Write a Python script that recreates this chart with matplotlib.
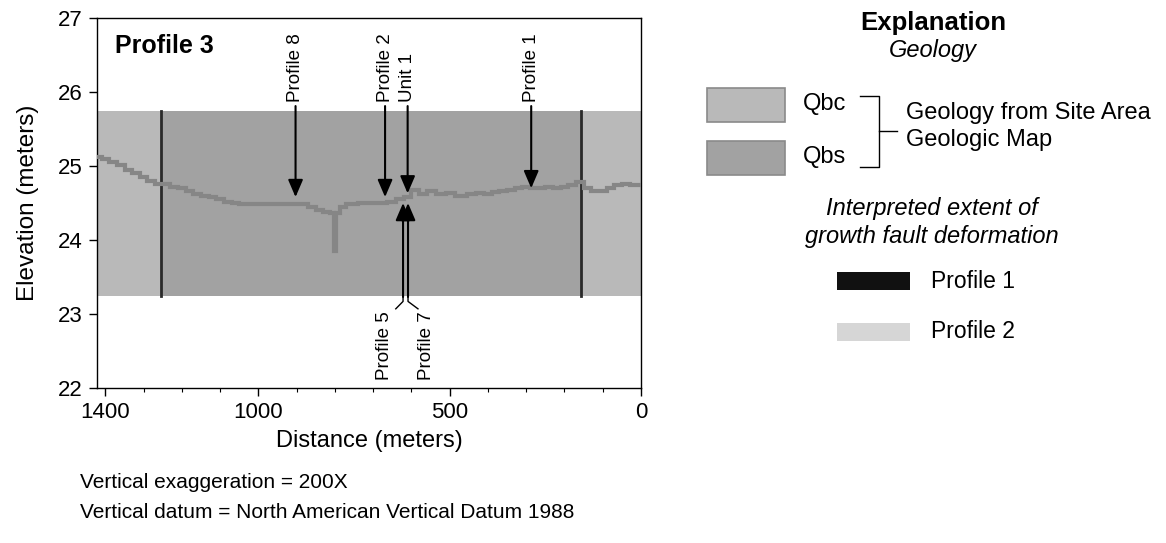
import matplotlib

matplotlib.use("Agg")

import matplotlib.pyplot as plt
from matplotlib.lines import Line2D
from matplotlib.patches import Rectangle

plt.rcParams["font.family"] = ["Liberation Sans", "DejaVu Sans"]
plt.rcParams["font.size"] = 15

# ground profile (distance in m, elevation in m)
distance = [1420, 1400, 1380, 1360, 1340, 1320, 1300, 1280, 1260, 1240, 1220,
            1200, 1180, 1160, 1140, 1120, 1100, 1080, 1060, 1040, 1000, 960,
            920, 880, 860, 840, 820, 805, 800, 795, 780, 760, 720, 680, 650,
            630, 610, 590, 570, 550, 520, 500, 470, 440, 420, 400, 380, 360,
            340, 320, 300, 280, 260, 240, 220, 200, 180, 160, 140, 120, 100,
            80, 60, 40, 20, 0]
elevation = [25.12, 25.10, 25.05, 25.02, 24.95, 24.90, 24.85, 24.80, 24.76,
             24.76, 24.72, 24.70, 24.66, 24.62, 24.60, 24.58, 24.55, 24.52,
             24.50, 24.49, 24.49, 24.48, 24.49, 24.48, 24.44, 24.40, 24.38,
             24.36, 23.85, 24.36, 24.45, 24.48, 24.50, 24.50, 24.52, 24.55,
             24.58, 24.68, 24.62, 24.66, 24.62, 24.64, 24.60, 24.62, 24.64,
             24.62, 24.65, 24.66, 24.68, 24.70, 24.72, 24.70, 24.70, 24.72,
             24.70, 24.72, 24.74, 24.78, 24.70, 24.66, 24.66, 24.70, 24.75,
             24.76, 24.74, 24.75]

# geologic units along the profile
unit_names = ["Qbc", "Qbs", "Qbc"]
unit_start = [1422, 1254, 158]
unit_end = [1254, 158, 0]
unit_top = 25.75
unit_bottom = 23.25
unit_colors = {"Qbc": "#b9b9b9", "Qbs": "#a2a2a2"}
contacts = [1254, 158]

# crossing profiles marked from above
down_labels = ["Profile 8", "Profile 2", "Unit 1", "Profile 1"]
down_x = [903, 669, 610, 287]
down_tip = [24.58, 24.58, 24.63, 24.70]

# crossing profiles marked from below
up_labels = ["Profile 5", "Profile 7"]
up_x = [622, 609]
up_tip = [24.50, 24.50]
up_label_shift = [49, -47]
up_leader_shift = [19, -26]

W, H = 1166, 543
fig = plt.figure(figsize=(W / 100, H / 100), dpi=100)
ax = fig.add_axes([97 / W, 1 - 388 / H, 544 / W, 370 / H])


def fx(x):
    return x / W


def fy(y):
    return 1 - y / H


for name, x0, x1 in zip(unit_names, unit_start, unit_end):
    ax.fill_between([x0, x1], unit_bottom, unit_top, color=unit_colors[name],
                    linewidth=0, zorder=1)
for c in contacts:
    ax.plot([c, c], [unit_bottom, unit_top], color="#2a2a2a", lw=2, zorder=2)

ax.plot(distance, elevation, drawstyle="steps-mid", color="#868686", lw=3,
        zorder=3, solid_joinstyle="miter")

arrow_kw = dict(arrowstyle="-|>,head_length=0.7,head_width=0.3", color="black",
                lw=1.5, mutation_scale=15, shrinkA=0, shrinkB=0)
for lab, x, tip in zip(down_labels, down_x, down_tip):
    ax.annotate("", xy=(x, tip), xytext=(x, 25.81), arrowprops=arrow_kw,
                zorder=5)
    ax.text(x, 25.86, lab, rotation=90, ha="center", va="bottom", fontsize=13.5,
            zorder=5)

for lab, x, tip, ls, ld in zip(up_labels, up_x, up_tip, up_label_shift,
                               up_leader_shift):
    ax.annotate("", xy=(x, tip), xytext=(x, unit_bottom - 0.02),
                arrowprops=arrow_kw, zorder=5)
    ax.plot([x, x, x + ld], [unit_bottom - 0.02, 23.17, 23.07], color="black",
            lw=1, clip_on=False, zorder=5)
    ax.text(x + ls, 23.04, lab, rotation=90, ha="center", va="top",
            fontsize=13.5, zorder=5)

ax.text(0.034, 0.925, "Profile 3", transform=ax.transAxes, fontsize=18,
        fontweight="bold", va="center", ha="left")

ax.set_xlim(1422, 0)
ax.set_ylim(22, 27)
ax.set_xticks([1400, 1000, 500, 0])
ax.set_xticks(range(0, 1401, 100), minor=True)
ax.set_yticks([22, 23, 24, 25, 26, 27])
ax.tick_params(axis="both", which="major", direction="out", length=6,
               width=1, labelsize=16, pad=4)
ax.tick_params(axis="x", which="minor", direction="out", length=3, width=0.8)
ax.set_xlabel("Distance (meters)", fontsize=17, labelpad=5)
ax.set_ylabel("Elevation (meters)", fontsize=17.5, labelpad=14)
for sp in ax.spines.values():
    sp.set_linewidth(1)

# explanation
fig.text(fx(933), fy(23), "Explanation", fontsize=18.5, fontweight="bold",
         ha="center", va="center")
fig.text(fx(933), fy(50), "Geology", fontsize=17, style="italic",
         ha="center", va="center")

for name, ytop in zip(["Qbc", "Qbs"], [88, 141]):
    fig.patches.append(Rectangle((fx(707), fy(ytop + 34)), 78 / W, 34 / H,
                                 transform=fig.transFigure,
                                 facecolor=unit_colors[name],
                                 edgecolor="#8a8a8a", lw=1.2))
    fig.text(fx(803), fy(ytop + 16), name, fontsize=17, ha="left",
             va="center")

bracket = [([860, 879, 879, 860], [96, 96, 167, 167]), ([879, 897], [131, 131])]
for bx, by in bracket:
    fig.add_artist(Line2D([fx(v) for v in bx], [fy(v) for v in by],
                          transform=fig.transFigure, color="black", lw=1))
fig.text(fx(906), fy(113), "Geology from Site Area", fontsize=17,
         ha="left", va="center")
fig.text(fx(906), fy(140), "Geologic Map", fontsize=17, ha="left",
         va="center")

fig.text(fx(932), fy(208), "Interpreted extent of", fontsize=17,
         style="italic", ha="center", va="center")
fig.text(fx(932), fy(236), "growth fault deformation", fontsize=17,
         style="italic", ha="center", va="center")

for lab, color, ytop in zip(["Profile 1", "Profile 2"], ["#111111", "#d6d6d6"],
                            [272, 323]):
    fig.patches.append(Rectangle((fx(837), fy(ytop + 18)), 73 / W, 18 / H,
                                 transform=fig.transFigure, facecolor=color,
                                 edgecolor="none"))
    fig.text(fx(931), fy(ytop + 9), lab, fontsize=16.5, ha="left", va="center")

fig.text(fx(80), fy(483), "Vertical exaggeration = 200X", fontsize=15,
         ha="left", va="center")
fig.text(fx(80), fy(512),
         "Vertical datum = North American Vertical Datum 1988", fontsize=15,
         ha="left", va="center")

fig.savefig("out.png", dpi=100, facecolor="white")
